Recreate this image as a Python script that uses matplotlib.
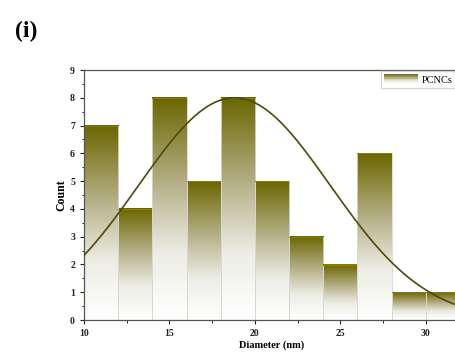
import numpy as np
import matplotlib
matplotlib.use("Agg")
import matplotlib.pyplot as plt
from matplotlib.colors import LinearSegmentedColormap
from matplotlib.patches import Rectangle
from matplotlib.legend_handler import HandlerBase

plt.rcParams['font.family'] = ['Liberation Serif', 'DejaVu Serif']

bin_edges = [10, 12, 14, 16, 18, 20, 22, 24, 26, 28, 30]
counts = [7, 4, 8, 5, 8, 5, 3, 2, 6, 1, 1]
bin_width = 2
fit_mu = 18.8
fit_sigma = 5.6
fit_amp = 8.0
series_label = "PCNCs"
x_ticks = [10, 15, 20, 25, 30]
y_ticks = list(range(0, 10))

top_col = (0.42, 0.40, 0.0)
cmap = LinearSegmentedColormap.from_list(
    "olive", [(0.0, (1, 1, 1)), (0.3, (0.93, 0.93, 0.90)), (0.6, (0.72, 0.70, 0.55)), (1.0, top_col)])

fig = plt.figure(figsize=(4.56, 3.59), dpi=100)
ax = fig.add_axes([84/456, 39/359, (460-84)/456, 250/359])

grad = np.linspace(0, 1, 256).reshape(-1, 1)
for left, c in zip(bin_edges, counts):
    ax.imshow(grad, extent=[left, left + bin_width, 0, c], origin='lower',
              cmap=cmap, aspect='auto', zorder=1, interpolation='bilinear')
    ax.add_patch(Rectangle((left, 0), bin_width, c, facecolor='none',
                           edgecolor='#d8d8d0', lw=0.6, zorder=2))
    ax.add_patch(Rectangle((left, c - 0.04), bin_width, 0.04, facecolor='#8a7d00',
                           edgecolor='none', zorder=2))

xs = np.linspace(10, 32, 300)
ax.plot(xs, fit_amp * np.exp(-(xs - fit_mu) ** 2 / (2 * fit_sigma ** 2)),
        color='#4f4a0a', lw=1.2, zorder=3)
ax.set_xlim(10, 32)
ax.set_ylim(0, 9)

ax.set_xticks(x_ticks)
ax.set_yticks(y_ticks)
ax.set_xticks(np.arange(10, 32.1, 2.5), minor=True)
ax.set_yticks(np.arange(0, 9.01, 0.5), minor=True)
ax.tick_params(direction='out', length=3, width=0.8, labelsize=7, colors='#222222')
ax.tick_params(which='minor', direction='out', length=1.8, width=0.6)
for lab in ax.get_xticklabels() + ax.get_yticklabels():
    lab.set_fontweight('bold')
for s in ['left', 'bottom', 'top']:
    ax.spines[s].set_color('#555555')
    ax.spines[s].set_linewidth(0.9)
ax.spines['right'].set_visible(False)

ax.set_xlabel('Diameter (nm)', fontsize=7.5, fontweight='bold', labelpad=2)
ax.set_ylabel('Count', fontsize=8.5, fontweight='bold', labelpad=2)


class GradHandler(HandlerBase):
    def create_artists(self, legend, orig_handle, xdescent, ydescent, width, height, fontsize, trans):
        from matplotlib.image import BboxImage
        from matplotlib.transforms import Bbox, TransformedBbox
        bb = Bbox.from_bounds(-xdescent, -ydescent, width, height)
        img = BboxImage(TransformedBbox(bb, trans), cmap=cmap, interpolation='bilinear', origin='lower')
        img.set_data(grad)
        return [img]


h = Rectangle((0, 0), 1, 1)
ax.legend([h], [series_label], handler_map={Rectangle: GradHandler()},
          loc='upper right', bbox_to_anchor=(0.99, 0.995), fontsize=7.5, frameon=True,
          fancybox=False, edgecolor='#cccccc', handlelength=3.2, handleheight=1.1,
          borderpad=0.3, borderaxespad=0.0, handletextpad=0.5)

fig.text(15/456, 1 - 37/359, '(i)', fontsize=17, fontweight='bold', ha='left', va='baseline')

fig.savefig('out.png', dpi=100)
